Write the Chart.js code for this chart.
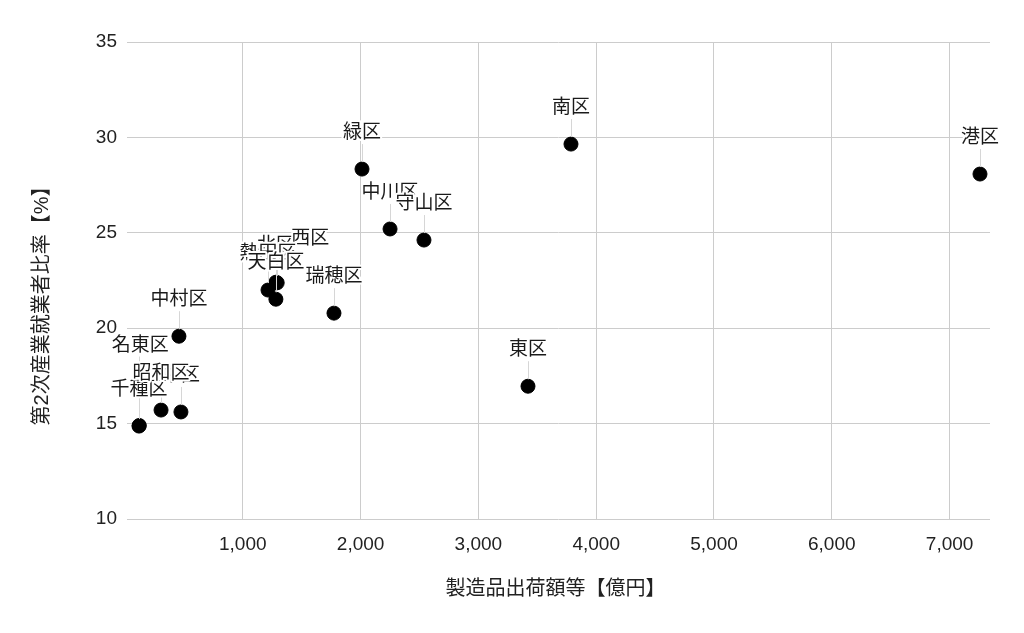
<!DOCTYPE html>
<html>
<head>
<meta charset="utf-8">
<script src="https://cdn.jsdelivr.net/npm/chart.js@4.4.0/dist/chart.umd.min.js"></script>
<style>
  html, body { margin: 0; padding: 0; background: #fff; }
  #wrap { width: 1024px; height: 633px; }
</style>
</head>
<body>
<div id="wrap"><canvas id="scatterChart" width="1024" height="633"></canvas></div>
<script>
const wards = ["千種区", "東区", "北区", "西区", "中村区", "中区", "昭和区", "瑞穂区", "熱田区", "中川区", "港区", "南区", "守山区", "緑区", "名東区", "天白区"];
const shipments = [119, 3421, 1281, 1292, 458, 475, 306, 1774, 1214, 2250, 7258, 3786, 2538, 2012, 121, 1281];
const secondaryRatio = [14.87, 16.96, 22.41, 22.38, 19.58, 15.61, 15.71, 20.79, 22.0, 25.2, 28.08, 29.65, 24.62, 28.34, 14.9, 21.52];
const xTicks = [1000, 2000, 3000, 4000, 5000, 6000, 7000];
const yTicks = [10, 15, 20, 25, 30, 35];

const xTitle = "製造品出荷額等【億円】";
const yTitle = "第2次産業就業者比率【%】";

const jpFont = "'Liberation Sans', Arial, 'Noto Sans CJK JP', sans-serif";

// labels that were pushed aside to avoid collisions [dx, dy] in px
const labelShift = { "西区": [33, -8], "名東区": [1, -44] };

const pointLabels = {
  id: "pointLabels",
  afterDatasetsDraw(chart) {
    const ctx = chart.ctx;
    const meta = chart.getDatasetMeta(0);
    const items = meta.data.map((pt, i) => {
      const s = labelShift[wards[i]] || [0, 0];
      return { name: wards[i], px: pt.x, py: pt.y, tx: pt.x + s[0], ty: pt.y - 36 + s[1] };
    });
    ctx.save();
    ctx.strokeStyle = "#d6d6d6";
    ctx.lineWidth = 1;
    items.forEach((it) => {
      ctx.beginPath();
      ctx.moveTo(Math.round(it.px) + 0.5, it.ty + 11);
      ctx.lineTo(Math.round(it.px) + 0.5, it.py - 7);
      ctx.stroke();
    });
    ctx.font = "19px " + jpFont;
    ctx.textAlign = "center";
    ctx.textBaseline = "middle";
    ctx.lineJoin = "round";
    items.forEach((it) => {
      ctx.strokeStyle = "#fff";
      ctx.lineWidth = 4;
      ctx.strokeText(it.name, it.tx, it.ty);
      ctx.fillStyle = "#1a1a1a";
      ctx.fillText(it.name, it.tx, it.ty);
    });
    ctx.restore();
  }
};

const axisTitles = {
  id: "axisTitles",
  afterDraw(chart) {
    const ctx = chart.ctx;
    const area = chart.chartArea;
    ctx.save();
    ctx.fillStyle = "#222";
    ctx.font = "20px " + jpFont;
    ctx.textAlign = "center";
    ctx.textBaseline = "middle";
    ctx.fillText(xTitle, (area.left + area.right) / 2 - 3, 589);
    ctx.translate(42, 301);
    ctx.rotate(-Math.PI / 2);
    ctx.fillText(yTitle, 0, 0);
    ctx.restore();
  }
};

new Chart(document.getElementById("scatterChart"), {
  type: "scatter",
  data: {
    datasets: [{
      label: "区",
      data: shipments.map((x, i) => ({ x: x, y: secondaryRatio[i] })),
      backgroundColor: "#000",
      borderColor: "#000",
      pointRadius: 7,
      pointHoverRadius: 7
    }]
  },
  options: {
    responsive: false,
    animation: false,
    devicePixelRatio: 1,
    layout: { padding: { left: 0, right: 34, top: 42, bottom: 0 } },
    plugins: { legend: { display: false }, tooltip: { enabled: false } },
    scales: {
      x: {
        type: "linear",
        min: 17,
        max: 7343,
        afterBuildTicks: (scale) => { scale.ticks = xTicks.map((v) => ({ value: v })); },
        afterFit: (scale) => { scale.height = 114; },
        grid: { color: "#cccccc", drawTicks: false },
        border: { display: false },
        ticks: {
          padding: 14,
          color: "#222",
          font: { size: 19, family: "'Liberation Sans', Arial, sans-serif" },
          maxRotation: 0,
          callback: (v) => v.toLocaleString("en-US")
        }
      },
      y: {
        min: 10,
        max: 35,
        afterBuildTicks: (scale) => { scale.ticks = yTicks.map((v) => ({ value: v })); },
        afterFit: (scale) => { scale.width = 127; },
        grid: { color: "#cccccc", drawTicks: false },
        border: { display: false },
        ticks: {
          padding: 10,
          color: "#222",
          font: { size: 19, family: "'Liberation Sans', Arial, sans-serif" }
        }
      }
    }
  },
  plugins: [pointLabels, axisTitles]
});
</script>
</body>
</html>
